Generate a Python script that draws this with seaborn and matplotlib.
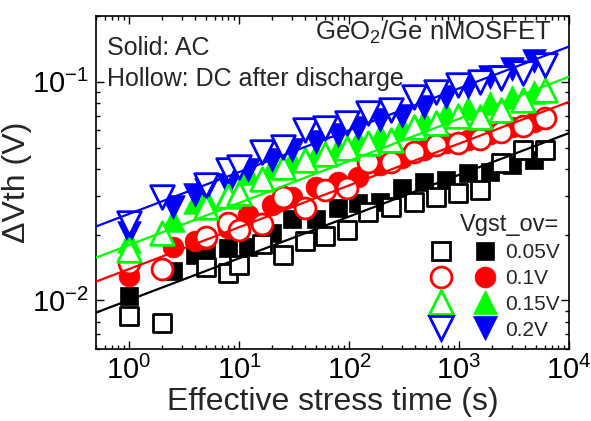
import matplotlib
matplotlib.use('Agg')
import matplotlib.pyplot as plt
import seaborn as sns
from matplotlib.lines import Line2D
from matplotlib.legend_handler import HandlerTuple

# ------------------------
# Data
# ------------------------
T_AC = [1, 2.5, 4, 5, 8, 12, 20, 30, 50, 80, 120, 190, 300, 480, 760, 1200, 1900, 3000, 4800]
T_DC = [1, 2, 5, 8, 10, 16, 25, 40, 60, 95, 150, 240, 390, 620, 980, 1550, 2400, 3800, 6000]

AC_005 = [0.0105, 0.0136, 0.0161, 0.0163, 0.0173, 0.0175, 0.0203, 0.0235, 0.0235, 0.0265,
          0.0278, 0.0281, 0.0326, 0.0348, 0.0355, 0.0383, 0.0386, 0.0416, 0.0439]
DC_005 = [0.00845, 0.00785, 0.0142, 0.0133, 0.0145, 0.0182, 0.0161, 0.0188, 0.0197, 0.0209,
          0.0253, 0.0267, 0.0281, 0.0296, 0.031, 0.032, 0.0425, 0.0487, 0.0487]

AC_01 = [0.013, 0.0175, 0.0188, 0.0192, 0.0215, 0.0245, 0.0273, 0.0296, 0.033, 0.035,
         0.0366, 0.0416, 0.045, 0.0487, 0.0524, 0.054, 0.058, 0.062, 0.0655]
DC_01 = [0.0149, 0.0139, 0.0195, 0.0225, 0.021, 0.0223, 0.0298, 0.0264, 0.032, 0.0328,
         0.043, 0.043, 0.0477, 0.0514, 0.0524, 0.055, 0.0588, 0.063, 0.0683]

AC_015 = [0.0188, 0.0233, 0.0281, 0.029, 0.031, 0.0383, 0.0407, 0.0438, 0.047, 0.050,
          0.054, 0.057, 0.062, 0.0667, 0.072, 0.076, 0.080, 0.085, 0.0895]
DC_015 = [0.017, 0.0203, 0.0267, 0.030, 0.031, 0.036, 0.0407, 0.0438, 0.047, 0.0497,
          0.0524, 0.054, 0.062, 0.065, 0.070, 0.069, 0.074, 0.0825, 0.092]

AC_02 = [0.0203, 0.0267, 0.0303, 0.032, 0.0337, 0.0395, 0.0438, 0.0487, 0.053, 0.057,
         0.0614, 0.0667, 0.070, 0.077, 0.085, 0.095, 0.105, 0.115, 0.124]
DC_02 = [0.0226, 0.0297, 0.0337, 0.0394, 0.0407, 0.0477, 0.0503, 0.060, 0.0614, 0.0646,
         0.0718, 0.074, 0.085, 0.0895, 0.097, 0.100, 0.104, 0.110, 0.119]

# power-law fit lines, given by their values at the axis ends
FIT_T = [0.5, 1e4]
FIT_005 = [0.0088, 0.0583]
FIT_01 = [0.0122, 0.081]
FIT_015 = [0.0157, 0.1055]
FIT_02 = [0.0218, 0.145]

LABELS = ['0.05V', '0.1V', '0.15V', '0.2V']
COLORS = ['black', 'red', '#00ff00', 'blue']
MARKERS = ['s', 'o', '^', 'v']
SIZES = [12.5, 15, 17, 17]

series = [(AC_005, DC_005, FIT_005), (AC_01, DC_01, FIT_01),
          (AC_015, DC_015, FIT_015), (AC_02, DC_02, FIT_02)]

# ------------------------
# Style
# ------------------------
sns.set_style('ticks')
plt.rcParams['font.family'] = ['Liberation Sans', 'DejaVu Sans']
plt.rcParams['mathtext.fontset'] = 'custom'
plt.rcParams['mathtext.rm'] = 'Liberation Sans'
plt.rcParams['mathtext.it'] = 'Liberation Sans:italic'
plt.rcParams['mathtext.bf'] = 'Liberation Sans:bold'
plt.rcParams['axes.unicode_minus'] = False

fig = plt.figure(figsize=(5.91, 4.21), dpi=100)
ax = fig.add_axes([0.1624, 0.171, 0.8004, 0.791])

# ------------------------
# Plotting
# ------------------------
handles = []
for (ac, dc, fit), c, m, ms in zip(series, COLORS, MARKERS, SIZES):
    sns.scatterplot(x=T_AC, y=ac, marker=m, s=ms ** 2, color=c, edgecolor=c,
                    linewidth=0.5, ax=ax, zorder=3)
    sns.scatterplot(x=T_DC, y=dc, marker=m, s=ms ** 2, color=c, facecolors='white',
                    edgecolor=c, linewidth=2.0, ax=ax, zorder=4)
    sns.lineplot(x=FIT_T, y=fit, color=c, linewidth=1.6, ax=ax, zorder=5)
    h_hollow = Line2D([], [], ls='none', marker=m, ms=ms, mfc='white', mec=c, mew=2.0)
    h_solid = Line2D([], [], ls='none', marker=m, ms=ms, mfc=c, mec=c, mew=0.5)
    handles.append((h_hollow, h_solid))

ax.set_xscale('log')
ax.set_yscale('log')
ax.set_xlim(0.5, 1e4)
ax.set_ylim(0.006, 0.2)

ax.set_xlabel('Effective stress time (s)', fontsize=23)
ax.set_ylabel('ΔVth (V)', fontsize=23)
ax.xaxis.set_label_coords(0.5, -0.115)
ax.yaxis.set_label_coords(-0.135, 0.5)
ax.tick_params(which='both', direction='in', top=True, right=True, colors='black')
ax.tick_params(which='major', length=6, width=1, labelsize=21, pad=5)
ax.tick_params(which='minor', length=3, width=1)
for sp in ax.spines.values():
    sp.set_color('black')
    sp.set_linewidth(1.2)

ax.text(0.023, 0.883, 'Solid: AC', transform=ax.transAxes, fontsize=18, va='baseline')
ax.text(0.023, 0.79, 'Hollow: DC after discharge', transform=ax.transAxes,
        fontsize=18, va='baseline')
ax.text(0.964, 0.928, 'GeO$_2$/Ge nMOSFET', transform=ax.transAxes, fontsize=18.5,
        va='baseline', ha='right')

leg = ax.legend(handles, LABELS, handler_map={tuple: HandlerTuple(ndivide=None, pad=1.2)},
                title='Vgst_ov=', loc='lower right', frameon=False, fontsize=15,
                title_fontsize=17, handlelength=3.0, handletextpad=0.5,
                labelspacing=0.33, borderaxespad=0.05, alignment='right')

plt.savefig('out.png', dpi=100)
